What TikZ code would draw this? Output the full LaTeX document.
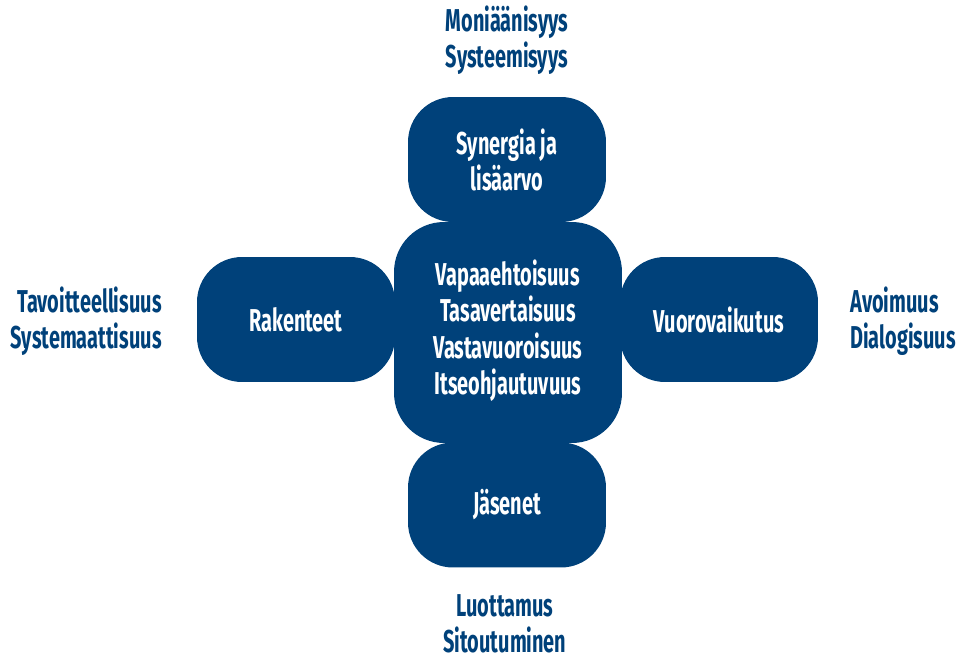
\documentclass[tikz,border=0pt]{standalone}
\usepackage{fontspec}
\setmainfont{Fira Sans}[FakeStretch=0.63]
\definecolor{navy}{HTML}{00417A}
\begin{document}
\begin{tikzpicture}[x=0.02cm, y=-0.02cm, font=\bfseries\fontsize{18}{20.5}\selectfont, box/.style={rectangle, rounded corners=0.9cm, fill=navy, text=white, inner sep=0pt, minimum width=3.96cm, minimum height=2.5cm, align=center}, side/.style={text=navy, inner sep=0pt}]
\useasboundingbox (0,0) rectangle (961,656);
% the five blocks
\node[box] (syn) at (507,159.5) {Synergia ja\\lisäarvo};
\node[box, minimum width=4.56cm, minimum height=4.42cm, rounded corners=1cm] (core) at (508,332.5) {\raisebox{-0.06cm}{\begin{tabular}{@{}c@{}}Vapaaehtoisuus\\Tasavertaisuus\\Vastavuoroisuus\\Itseohjautuvuus\end{tabular}}};
\node[box] (jas) at (507,505) {Jäsenet};
\node[box] (rak) at (296,319.5) {Rakenteet};
\node[box] (vuo) at (719,319.5) {\raisebox{-0.14cm}{Vuorovaikutus}};
% labels outside
\node[side, align=center] (top) at (507,40) {Moniäänisyys\\Systeemisyys};
\node[side, align=right, anchor=east] (left) at (162,321) {Tavoitteellisuus\\Systemaattisuus};
\node[side, align=left, anchor=west] (right) at (850,321) {Avoimuus\\Dialogisuus};
\node[side, align=center] (bottom) at (505,624) {Luottamus\\Sitoutuminen};
\end{tikzpicture}
\end{document}
